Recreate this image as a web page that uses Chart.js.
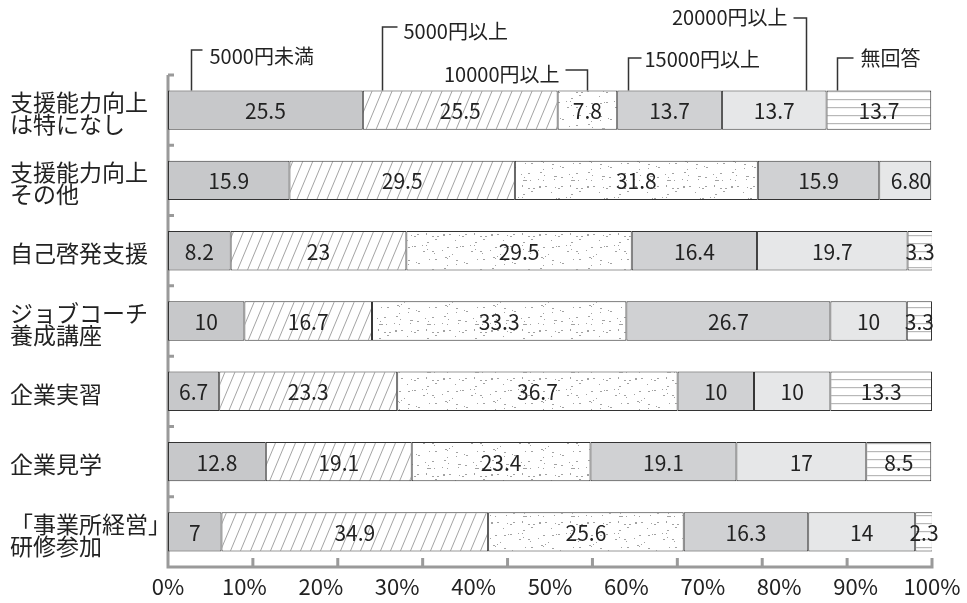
<!DOCTYPE html>
<html lang="ja">
<head>
<meta charset="utf-8">
<script src="https://cdn.jsdelivr.net/npm/chart.js@4.4.1/dist/chart.umd.min.js"></script>
<style>
  html, body { margin: 0; padding: 0; background: #fff; }
  #wrap { width: 967px; height: 603px; }
</style>
</head>
<body>
<div id="wrap"><canvas id="chart" width="967" height="603"></canvas></div>
<script>
const categories = [
  ["支援能力向上", "は特になし"],
  ["支援能力向上", "その他"],
  "自己啓発支援",
  ["ジョブコーチ", "養成講座"],
  "企業実習",
  "企業見学",
  ["「事業所経営」", "研修参加"],
];
const seriesNames = ["5000円未満", "5000円以上", "10000円以上", "15000円以上", "20000円以上", "無回答"];
const under5000 = [25.5, 15.9, 8.2, 10, 6.7, 12.8, 7];
const from5000 = [25.5, 29.5, 23, 16.7, 23.3, 19.1, 34.9];
const from10000 = [7.8, 31.8, 29.5, 33.3, 36.7, 23.4, 25.6];
const from15000 = [13.7, 15.9, 16.4, 26.7, 10, 19.1, 16.3];
const from20000 = [13.7, 6.8, 19.7, 10, 10, 17, 14];
const noAnswer = [13.7, 0, 3.3, 3.3, 13.3, 8.5, 2.3];
const seriesValues = [under5000, from5000, from10000, from15000, from20000, noAnswer];

const FONT = '"Noto Sans CJK JP", "Noto Sans", sans-serif';
Chart.defaults.font.family = FONT;

const ctx = document.getElementById("chart");

function tile(w, h, draw) {
  const c = document.createElement("canvas");
  c.width = w;
  c.height = h;
  const g = c.getContext("2d");
  g.fillStyle = "#fff";
  g.fillRect(0, 0, w, h);
  draw(g, w, h);
  return ctx.getContext("2d").createPattern(c, "repeat");
}

// steep "/" hatching
const hatch = tile(10, 24, (g, w, h) => {
  g.strokeStyle = "#9a9a9a";
  g.lineWidth = 0.9;
  g.beginPath();
  for (const dx of [-w, 0, w]) {
    g.moveTo(dx, h);
    g.lineTo(dx + w, 0);
  }
  g.stroke();
});

// fine stipple, fixed seed so it draws the same every time
const stipple = tile(48, 48, (g, w, h) => {
  let seed = 7;
  const rnd = () => (seed = (seed * 16807) % 2147483647) / 2147483647;
  g.fillStyle = "#a2a2a2";
  for (let i = 0; i < 50; i++) {
    g.fillRect(Math.floor(rnd() * w), Math.floor(rnd() * h), rnd() < 0.5 ? 2 : 1, 1);
  }
});

// horizontal rules
const rules = tile(4, 8, (g) => {
  g.fillStyle = "#b8b8b8";
  g.fillRect(0, 3, 4, 1.2);
});

const fills = ["#c7c8ca", hatch, stipple, "#d0d1d3", "#e6e7e8", rules];

// grey frame: left axis with category notches, bottom axis with upward notches
const axisFrame = {
  id: "axisFrame",
  beforeDatasetsDraw(chart) {
    const { ctx: g, chartArea: a, scales } = chart;
    g.save();
    g.strokeStyle = "#9a9a9a";
    g.lineWidth = 3;
    g.beginPath();
    g.moveTo(a.left, a.top);
    g.lineTo(a.left, a.bottom);
    g.lineTo(a.right, a.bottom);
    g.lineTo(a.right, a.bottom - 9);
    for (let k = 0; k <= categories.length; k++) {
      const y = scales.y.getPixelForValue(k - 0.5);
      g.moveTo(a.left, y);
      g.lineTo(a.left + 6, y);
    }
    // frame ticks split the bottom axis into nine parts
    const parts = 9;
    for (let k = 1; k < parts; k++) {
      const x = a.left + (a.right - a.left) * k / parts;
      g.moveTo(x, a.bottom);
      g.lineTo(x, a.bottom - 9);
    }
    g.stroke();
    g.restore();
  },
};

// value written in the middle of every segment
const valueLabels = {
  id: "valueLabels",
  afterDatasetsDraw(chart) {
    const g = chart.ctx;
    g.save();
    g.font = "21px " + FONT;
    g.fillStyle = "#222";
    g.textBaseline = "middle";
    chart.data.datasets.forEach((ds, i) => {
      chart.getDatasetMeta(i).data.forEach((bar, j) => {
        const { x, y, base } = bar.getProps(["x", "y", "base"], true);
        const v = ds.data[j];
        // an empty segment keeps its label tucked inside the bar end
        g.textAlign = v === 0 ? "right" : "center";
        g.fillText(String(v), v === 0 ? x : (x + base) / 2, y + 1);
      });
    });
    g.restore();
  },
};

// series names hung over the first bar with bracket leaders
const calloutStyle = [
  { at: 0.12, cornerY: 50, textY: 56, arm: 11, gap: 18, side: 1 },
  { at: 0.1, cornerY: 27, textY: 31, arm: 15, gap: 21, side: 1 },
  { at: 0.5, cornerY: 70, textY: 74, arm: 22, gap: 28, side: -1 },
  { at: 0.1, cornerY: 58, textY: 59, arm: 13, gap: 16, side: 1 },
  { at: 0.8, cornerY: 18, textY: 17, arm: 13, gap: 19, side: -1 },
  { at: 0.1, cornerY: 58, textY: 58, arm: 16, gap: 23, side: 1 },
];
const callouts = {
  id: "callouts",
  afterDatasetsDraw(chart) {
    const g = chart.ctx;
    g.save();
    g.strokeStyle = "#333";
    g.lineWidth = 1.5;
    g.fillStyle = "#222";
    g.font = "20px " + FONT;
    g.textBaseline = "middle";
    seriesNames.forEach((name, i) => {
      const s = calloutStyle[i];
      const bar = chart.getDatasetMeta(i).data[0];
      const { x, y, base, height } = bar.getProps(["x", "y", "base", "height"], true);
      const lx = Math.round(base + (x - base) * s.at) + 0.5;
      g.beginPath();
      g.moveTo(lx, y - height / 2);
      g.lineTo(lx, s.cornerY);
      g.lineTo(lx + s.side * s.arm, s.cornerY);
      g.stroke();
      g.textAlign = s.side > 0 ? "left" : "right";
      g.fillText(name, lx + s.side * s.gap, s.textY);
    });
    g.restore();
  },
};

new Chart(ctx, {
  type: "bar",
  data: {
    labels: categories,
    datasets: seriesValues.map((data, i) => ({
      label: seriesNames[i],
      data: data,
      backgroundColor: fills[i],
      borderColor: "#333",
      borderWidth: 1,
      borderSkipped: false,
      categoryPercentage: 1,
      barPercentage: 0.56,
    })),
  },
  options: {
    indexAxis: "y",
    responsive: false,
    animation: false,
    layout: { padding: { left: 10, right: 35, top: 75, bottom: 0 } },
    plugins: {
      legend: { display: false },
      tooltip: { enabled: false },
    },
    scales: {
      x: {
        stacked: true,
        min: 0,
        max: 100,
        grid: { display: false, drawTicks: false },
        border: { display: false },
        ticks: {
          stepSize: 10,
          callback: (v) => v + "%",
          color: "#222",
          padding: 6,
          maxRotation: 0,
          font: { size: 22 },
        },
        afterFit(s) {
          s.height = 36;
          s.paddingLeft = 0;
          s.paddingRight = 0;
        },
      },
      y: {
        stacked: true,
        grid: { display: false, drawTicks: false },
        border: { display: false },
        ticks: {
          crossAlign: "far",
          color: "#222",
          padding: 0,
          labelOffset: 3,
          font: { size: 23, lineHeight: 0.95 },
        },
        afterFit(s) {
          s.width = 158;
          s.paddingTop = 0;
          s.paddingBottom = 0;
        },
      },
    },
  },
  plugins: [axisFrame, valueLabels, callouts],
});
</script>
</body>
</html>
